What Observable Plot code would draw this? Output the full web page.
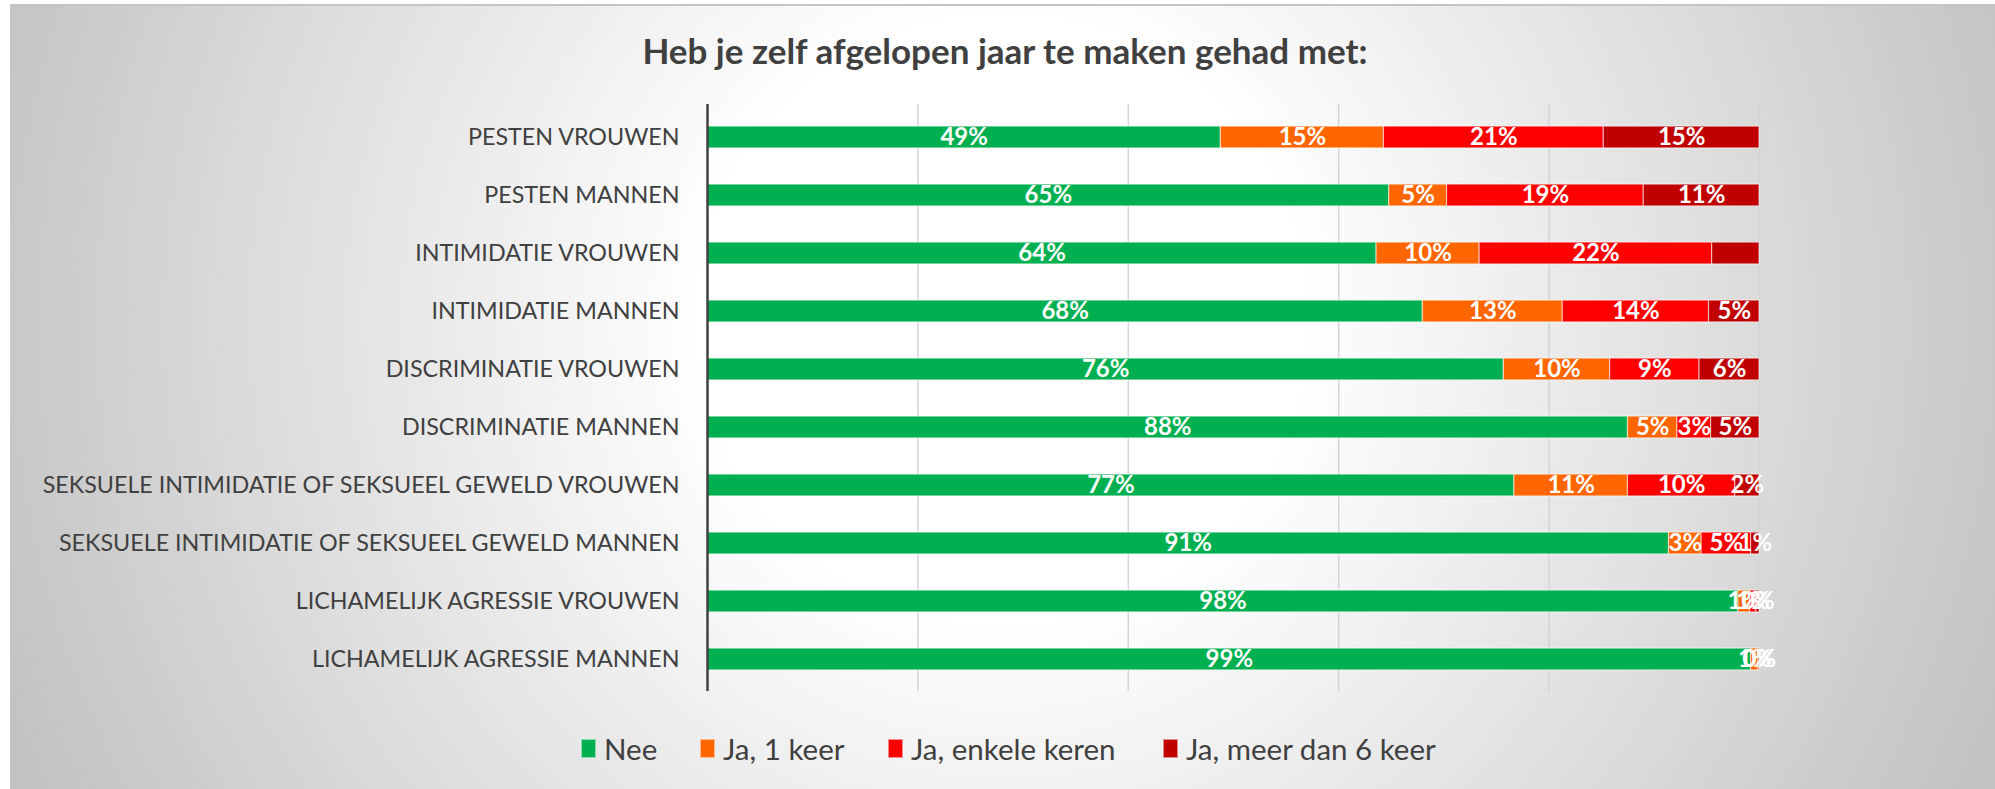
<!DOCTYPE html>
<html>
<head>
<meta charset="utf-8">
<script src="https://cdn.jsdelivr.net/npm/d3@7"></script>
<script src="https://cdn.jsdelivr.net/npm/@observablehq/plot@0.6"></script>
<style>
  html, body { margin: 0; padding: 0; background: #ffffff; }
  #page { position: relative; width: 1995px; height: 789px; overflow: hidden; font-family: Lato, sans-serif; }
  #bg { position: absolute; left: 10px; top: 4px; width: 1985px; height: 785px;
        border-top: 2px solid #c4c4c4; box-sizing: border-box;
        background: radial-gradient(circle 1060px at 50% 40%, #ffffff 0%, #ffffff 28%, #c3c3c3 100%); }
  #title { position: absolute; left: 0; width: 2010px; top: 28px; text-align: center;
           font-family: Lato, sans-serif; font-weight: 700; font-size: 35px; color: #404040; line-height: 44px; }
  #chart { position: absolute; left: 0; top: 0; }
  #legend { position: absolute; left: 0; top: 729px; width: 1995px; height: 38px;
            font-family: Lato, sans-serif; font-size: 29.5px; color: #404040; }
  .item { position: absolute; top: 0; height: 38px; display: flex; align-items: center; white-space: nowrap; }
  .sw { width: 15px; height: 19px; margin-right: 8px; box-sizing: border-box; border: 1px solid rgba(255,255,255,0.55); }
</style>
</head>
<body>
<div id="page">
  <div id="bg"></div>
  <div id="title">Heb je zelf afgelopen jaar te maken gehad met:</div>
  <div id="chart"></div>
  <div id="legend"></div>
</div>
<script>
const categories = [
  "PESTEN VROUWEN",
  "PESTEN MANNEN",
  "INTIMIDATIE VROUWEN",
  "INTIMIDATIE MANNEN",
  "DISCRIMINATIE VROUWEN",
  "DISCRIMINATIE MANNEN",
  "SEKSUELE INTIMIDATIE OF SEKSUEEL GEWELD VROUWEN",
  "SEKSUELE INTIMIDATIE OF SEKSUEEL GEWELD MANNEN",
  "LICHAMELIJK AGRESSIE VROUWEN",
  "LICHAMELIJK AGRESSIE MANNEN"
];
const seriesNames = ["Nee", "Ja, 1 keer", "Ja, enkele keren", "Ja, meer dan 6 keer"];
const seriesColors = ["#00B050", "#FF6600", "#FF0000", "#C00000"];

const nee    = [48.8, 64.8, 63.6, 68.0, 75.7, 87.5, 76.7, 91.4, 98.0, 99.2];
const eenKeer = [15.5, 5.5, 9.8, 13.3, 10.1, 4.7, 10.8, 3.1, 1.1, 0.7];
const enkele = [20.9, 18.7, 22.1, 13.9, 8.5, 3.2, 10.2, 4.7, 0.6, 0.1];
const meer   = [14.8, 11.0, 4.5, 4.8, 5.7, 4.6, 2.3, 0.8, 0.3, 0.0];

const neeLabels    = ["49%","65%","64%","68%","76%","88%","77%","91%","98%","99%"];
const eenKeerLabels = ["15%","5%","10%","13%","10%","5%","11%","3%","1%","1%"];
const enkeleLabels = ["21%","19%","22%","14%","9%","3%","10%","5%","1%","0%"];
const meerLabels   = ["15%","11%","","5%","6%","5%","2%","1%","0%","0%"];

const xTicks = [0, 20, 40, 60, 80, 100];

const seriesValues = [nee, eenKeer, enkele, meer];
const seriesLabels = [neeLabels, eenKeerLabels, enkeleLabels, meerLabels];

const data = [];
categories.forEach((cat, i) => {
  seriesNames.forEach((s, j) => {
    data.push({cat, series: s, value: seriesValues[j][i], label: seriesLabels[j][i]});
  });
});

const chart = Plot.plot({
  width: 1995,
  height: 789,
  marginLeft: 707,
  marginRight: 236,
  marginTop: 104,
  marginBottom: 98,
  style: {fontFamily: "Lato, sans-serif", color: "#404040", background: "transparent", overflow: "visible"},
  x: {domain: [0, 100], axis: null},
  y: {domain: categories, padding: 0, axis: null},
  color: {domain: seriesNames, range: seriesColors},
  marks: [
    Plot.ruleX(xTicks.filter(d => d > 0), {stroke: "#d4d4d4", strokeWidth: 1.5}),
    Plot.barX(data, {
      x: "value", y: "cat", fill: "series",
      insetTop: 18.1, insetBottom: 18.1,
      stroke: "#ffffff", strokeOpacity: 0.55, strokeWidth: 1.2
    }),
    Plot.text(data, Plot.stackX({
      x: "value", y: "cat", z: "series", text: "label",
      fill: "white", fontWeight: "bold", fontSize: 24, fontFamily: "Lato, sans-serif"
    })),
    Plot.ruleX([0], {stroke: "#404040", strokeWidth: 2.5}),
    Plot.axisY({tickSize: 0, tickPadding: 28, fontSize: 23.3, label: null, fill: "#404040"})
  ]
});
document.getElementById("chart").appendChild(chart);

const legendX = [581, 700, 888, 1163];
const legend = document.getElementById("legend");
seriesNames.forEach((s, j) => {
  const item = document.createElement("div");
  item.className = "item";
  item.style.left = legendX[j] + "px";
  const sw = document.createElement("div");
  sw.className = "sw";
  sw.style.background = seriesColors[j];
  const t = document.createElement("span");
  t.textContent = s;
  item.appendChild(sw);
  item.appendChild(t);
  legend.appendChild(item);
});
</script>
</body>
</html>
